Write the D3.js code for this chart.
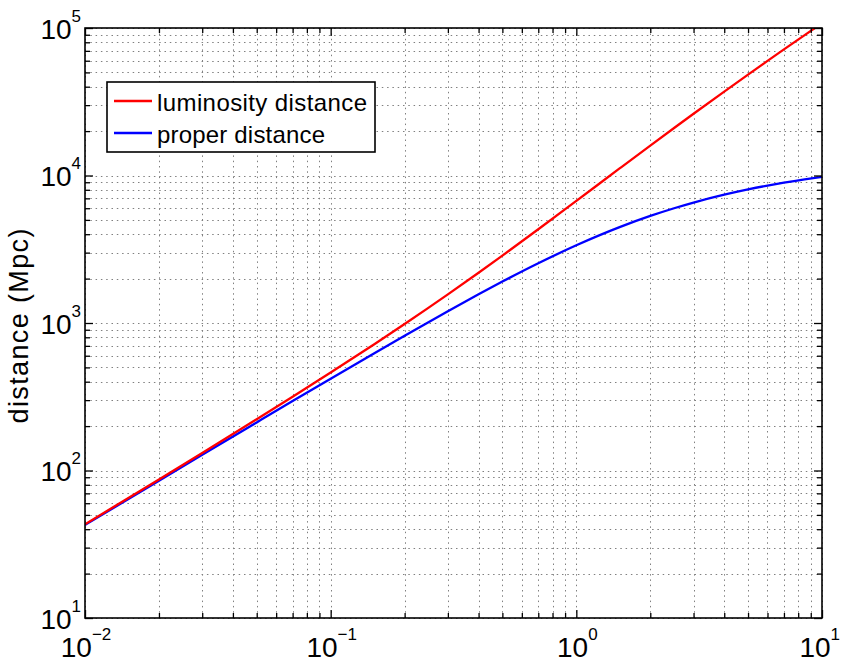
<!DOCTYPE html>
<html>
<head>
<meta charset="utf-8">
<script src="https://cdn.jsdelivr.net/npm/d3@7"></script>
<style>
  html, body { margin: 0; padding: 0; background: #fff; }
  svg { display: block; font-family: "Liberation Sans", Arial, Helvetica, sans-serif; }
</style>
</head>
<body>
<svg id="chart" width="841" height="662"></svg>
<script>
// ---- data ----
const redshift = [0.01, 0.02, 0.03, 0.05, 0.07, 0.1, 0.15, 0.2, 0.3, 0.4, 0.5, 0.7, 1, 1.5, 2, 2.5, 3, 4, 5, 6, 7, 8.5, 10];
const properDistance = [42.7, 85.3, 127.7, 211.9, 295.5, 419.4, 622.2, 820.4, 1202, 1565, 1909, 2541, 3365, 4467, 5320, 5999, 6554, 7411, 8049, 8546, 8947, 9426, 9803];
const luminosityDistance = [43.2, 87.0, 131.5, 222.5, 316.2, 461.3, 715.5, 984.4, 1563, 2191, 2863, 4320, 6730, 11167, 15960, 20998, 26217, 37057, 48293, 59819, 71574, 89545, 107835];
const seriesNames = ["luminosity distance", "proper distance"];
const xTickExponents = [-2, -1, 0, 1];
const yTickExponents = [1, 2, 3, 4, 5];
const yLabel = "distance (Mpc)";

// ---- layout ----
const L = 85, R = 822, T = 28, B = 618;
const svg = d3.select("#chart");

const x = d3.scaleLog().domain([0.01, 10]).range([L, R]);
const y = d3.scaleLog().domain([10, 1e5]).range([B, T]);

const xMajor = xTickExponents.map(e => Math.pow(10, e));
const yMajor = yTickExponents.map(e => Math.pow(10, e));
function minors(exps) {
  const out = [];
  for (let i = 0; i < exps.length - 1; i++) {
    for (let m = 2; m <= 9; m++) out.push(m * Math.pow(10, exps[i]));
  }
  return out;
}
const xMinor = minors(xTickExponents);
const yMinor = minors(yTickExponents);

// ---- grid (dotted) ----
const grid = svg.append("g").attr("class", "grid")
  .attr("stroke", "#808080").attr("stroke-width", 1).attr("stroke-dasharray", "1.5,3.8");
grid.selectAll("line.vx").data(xMajor.concat(xMinor)).enter().append("line")
  .attr("x1", d => Math.round(x(d)) + 0.5).attr("x2", d => Math.round(x(d)) + 0.5)
  .attr("y1", B).attr("y2", T);
grid.selectAll("line.hy").data(yMajor.concat(yMinor)).enter().append("line")
  .attr("y1", d => Math.round(y(d)) + 0.5).attr("y2", d => Math.round(y(d)) + 0.5)
  .attr("x1", L).attr("x2", R);

// ---- curves ----
svg.append("defs").append("clipPath").attr("id", "clip")
  .append("rect").attr("x", L).attr("y", T).attr("width", R - L).attr("height", B - T);

const line = (vals) => d3.line()
  .x((d, i) => x(redshift[i]))
  .y(d => y(d))
  .curve(d3.curveMonotoneX)(vals);

const curves = svg.append("g").attr("clip-path", "url(#clip)");
curves.append("path").attr("d", line(properDistance))
  .attr("fill", "none").attr("stroke", "#0000ff").attr("stroke-width", 2.3);
curves.append("path").attr("d", line(luminosityDistance))
  .attr("fill", "none").attr("stroke", "#ff0000").attr("stroke-width", 2.3);

// ---- axes (ticks inside, mirrored) ----
function styleAxis(g) {
  g.select(".domain").remove();
  g.selectAll(".tick line").attr("stroke", "#000").attr("stroke-width", 1.3);
  g.selectAll(".tick text").remove();
}
const majLen = 8, minLen = 5;
svg.append("g").attr("transform", `translate(0,${B})`)
  .call(d3.axisBottom(x).tickValues(xMajor).tickSizeInner(-majLen).tickSizeOuter(0)).call(styleAxis);
svg.append("g").attr("transform", `translate(0,${B})`)
  .call(d3.axisBottom(x).tickValues(xMinor).tickSizeInner(-minLen).tickSizeOuter(0)).call(styleAxis);
svg.append("g").attr("transform", `translate(0,${T})`)
  .call(d3.axisTop(x).tickValues(xMajor).tickSizeInner(-majLen).tickSizeOuter(0)).call(styleAxis);
svg.append("g").attr("transform", `translate(0,${T})`)
  .call(d3.axisTop(x).tickValues(xMinor).tickSizeInner(-minLen).tickSizeOuter(0)).call(styleAxis);
svg.append("g").attr("transform", `translate(${L},0)`)
  .call(d3.axisLeft(y).tickValues(yMajor).tickSizeInner(-majLen).tickSizeOuter(0)).call(styleAxis);
svg.append("g").attr("transform", `translate(${L},0)`)
  .call(d3.axisLeft(y).tickValues(yMinor).tickSizeInner(-minLen).tickSizeOuter(0)).call(styleAxis);
svg.append("g").attr("transform", `translate(${R},0)`)
  .call(d3.axisRight(y).tickValues(yMajor).tickSizeInner(-majLen).tickSizeOuter(0)).call(styleAxis);
svg.append("g").attr("transform", `translate(${R},0)`)
  .call(d3.axisRight(y).tickValues(yMinor).tickSizeInner(-minLen).tickSizeOuter(0)).call(styleAxis);

// frame
svg.append("rect").attr("x", L).attr("y", T).attr("width", R - L).attr("height", B - T)
  .attr("fill", "none").attr("stroke", "#000").attr("stroke-width", 1.6);

// ---- tick labels (10^n) ----
const fmtExp = e => (e < 0 ? "\u2212" + Math.abs(e) : String(e));
function powerLabel(sel, e) {
  sel.append("tspan").attr("font-size", 28).text("10");
  sel.append("tspan").attr("font-size", 17).attr("dy", -17).text(fmtExp(e));
}
xTickExponents.forEach((e, i) => {
  const last = i === xTickExponents.length - 1;
  const t = svg.append("text")
    .attr("x", last ? 840 : x(Math.pow(10, e)) + 1).attr("y", 657)
    .attr("text-anchor", last ? "end" : "middle").attr("fill", "#000");
  powerLabel(t, e);
});
yTickExponents.forEach(e => {
  const t = svg.append("text").attr("x", 81).attr("y", y(Math.pow(10, e)) + 10.5)
    .attr("text-anchor", "end").attr("fill", "#000");
  powerLabel(t, e);
});

// ---- y-axis title ----
svg.append("text")
  .attr("transform", `translate(28,326) rotate(-90)`)
  .attr("text-anchor", "middle")
  .attr("font-size", 27)
  .attr("textLength", 195).attr("lengthAdjust", "spacing")
  .attr("fill", "#000")
  .text(yLabel);

// ---- legend ----
const leg = svg.append("g");
leg.append("rect").attr("x", 107).attr("y", 82).attr("width", 268).attr("height", 70)
  .attr("fill", "#fff").attr("stroke", "#000").attr("stroke-width", 1.6);
const legColors = ["#ff0000", "#0000ff"];
const legY = [101, 133];
const legLen = [210, 168];
seriesNames.forEach((name, i) => {
  leg.append("line").attr("x1", 114).attr("x2", 152).attr("y1", legY[i]).attr("y2", legY[i])
    .attr("stroke", legColors[i]).attr("stroke-width", 2.3);
  leg.append("text").attr("x", 157).attr("y", legY[i] + 9.5)
    .attr("font-size", 24).attr("fill", "#000")
    .attr("textLength", legLen[i]).attr("lengthAdjust", "spacing")
    .text(name);
});
</script>
</body>
</html>
